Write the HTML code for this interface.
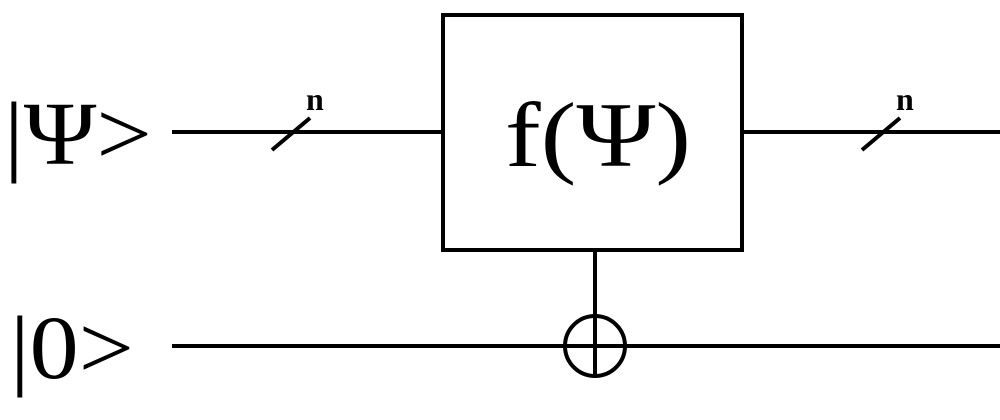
<!DOCTYPE html>
<html><head><style>
html,body{margin:0;padding:0;background:#fff;width:1000px;height:420px;overflow:hidden}
text{font-family:"Liberation Serif","Times New Roman",serif}
</style></head><body>
<svg width="1000" height="420" xmlns="http://www.w3.org/2000/svg">
<g stroke="#000" stroke-width="4" fill="none">
<line x1="172" y1="132" x2="441" y2="132"/>
<line x1="743" y1="132" x2="1000" y2="132"/>
<line x1="172" y1="346" x2="1000" y2="346"/>
<rect x="443" y="15" width="299" height="235"/>
<line x1="595" y1="250" x2="595" y2="376"/>
<circle cx="595" cy="346" r="30"/>
<line x1="565" y1="346" x2="625" y2="346"/>
<line x1="272" y1="150" x2="310" y2="118"/>
<line x1="862" y1="150" x2="900" y2="118"/>
</g>
<g fill="#000">
<text x="4" y="164" font-size="90" textLength="148" lengthAdjust="spacingAndGlyphs">|Ψ&gt;</text>
<text x="10" y="378" font-size="90" textLength="124" lengthAdjust="spacingAndGlyphs">|0&gt;</text>
<text x="505" y="166" font-size="92" textLength="186" lengthAdjust="spacingAndGlyphs">f(Ψ)</text>
<text x="306" y="110" font-size="32" font-weight="bold">n</text>
<text x="896" y="110" font-size="32" font-weight="bold">n</text>
</g>
</svg>
</body></html>
